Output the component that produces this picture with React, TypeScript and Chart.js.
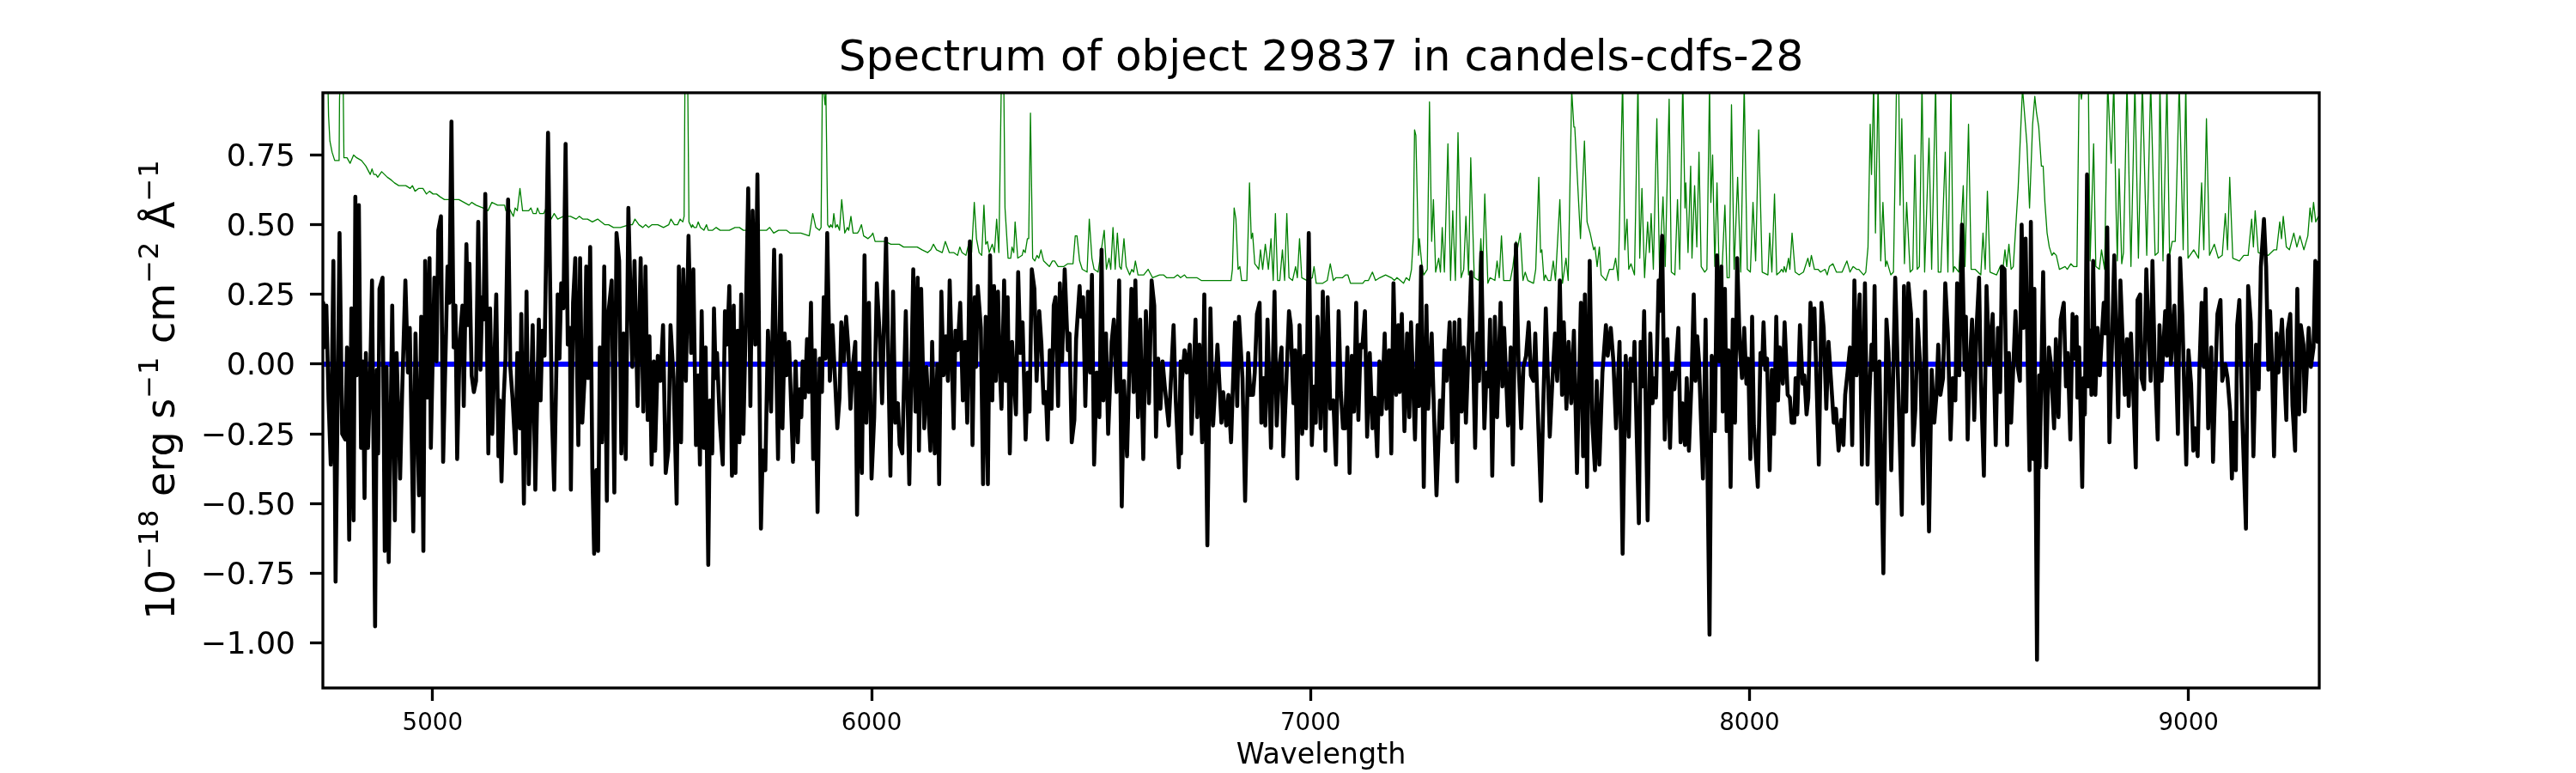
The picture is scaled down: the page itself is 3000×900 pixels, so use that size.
import React, { useEffect, useRef } from "react";
import { Chart, registerables } from "chart.js";

Chart.register(...registerables);

const titleText = "Spectrum of object 29837 in candels-cdfs-28";
const xLabel = "Wavelength";
const yLabelParts = [
  ["10", 0], ["\u221218", 1], [" erg s", 0], ["\u22121", 1], [" cm", 0], ["\u22122", 1], [" \u00c5", 0], ["\u22121", 1],
];
const xTickValues = [5000, 6000, 7000, 8000, 9000];
const yTickValues = [-1, -0.75, -0.5, -0.25, 0, 0.25, 0.5, 0.75];
const xLimits = [4750, 9298];
const yLimits = [-1.161, 0.973];
const zeroLine = [[4750, 0], [9296, 0]];

// Object flux, [wavelength, flux]
const fluxA = [[4750,.06],[4751,.22],[4753,.06],[4758,.21],[4763,-.13],[4768,-.36],[4774,.37],[4779,-.78],[4788,.47],[4794,-.25],[4801,-.27],[4805,.06],[4810,-.63],[4815,.20],[4820,-.56],[4824,.60],[4827,-.04],[4832,.57],[4837,-.30],[4841,.01],[4845,-.48],[4848,.04],[4853,-.30],[4858,-.03],[4862,.30],[4869,-.94],[4873,-.02],[4876,-.32],[4879,.27],[4886,.31],[4891,-.67],[4895,-.01],[4900,-.71],[4908,.21],[4914,-.56],[4918,.04],[4926,-.41],[4931,-.08],[4938,.30],[4944,-.03],[4948,.13],[4956,-.60],[4961,.11],[4969,-.47],[4974,.17],[4979,-.67],[4983,.37],[4988,-.12],[4993,.38],[4996,-.30],[5004,.31],[5009,.01],[5013,.48],[5019,.53],[5024,-.35],[5034,.35],[5038,.22],[5043,.87],[5048,.06],[5052,.21],[5056,-.34],[5062,.09],[5068,.21],[5071,-.15],[5077,.43],[5081,.14],[5084,.36],[5089,-.04],[5094,-.10],[5099,-.06],[5104,.51],[5109,-.02],[5113,.24],[5116,.16],[5120,.61],[5127,-.32],[5131,.20],[5136,-.25],[5145,.25],[5150,-.33],[5153,-.13],[5157,-.42],[5162,-.12],[5166,.02],[5172,.59],[5177,-.01],[5182,-.12],[5189,-.32],[5193,.04],[5199,-.23],[5202,.18],[5208,-.50],[5214,.26],[5219,-.43],[5228,.14],[5234,-.45],[5242,.16],[5246,-.13],[5250,.12],[5255,.03],[5263,.83],[5272,-.19],[5277,-.45],[5285,.25],[5289,.02],[5293,.29],[5298,.20],[5303,.79],[5308,.07],[5313,.13],[5315,-.45],[5320,.22],[5325,.38],[5332,-.29],[5336,.38],[5341,-.21],[5346,-.06],[5350,.35],[5354,-.05],[5359,.42],[5364,-.39],[5368,-.68],[5373,-.38],[5377,-.67],[5381,.06],[5386,-.28],[5391,.35],[5397,-.49],[5401,.19]];
const fluxB = [[5408,.30],[5414,-.46],[5419,.47],[5425,.37],[5430,-.32],[5435,.11],[5440,-.34],[5446,.56],[5455,-.01],[5460,.37],[5467,-.15],[5474,.38],[5480,-.17],[5485,.35],[5490,-.20],[5494,.10],[5499,-.36],[5504,.01],[5507,-.31],[5513,.03],[5519,-.06],[5525,.14],[5531,-.39],[5537,-.31],[5542,.14],[5549,-.05],[5556,-.50],[5561,.35],[5566,-.28],[5571,.34],[5577,-.06],[5583,.46],[5589,.04],[5594,.34],[5600,-.29],[5605,-.04],[5609,-.36],[5613,.19],[5618,-.30],[5622,.06],[5628,-.72],[5632,-.13],[5637,-.32],[5641,.20],[5645,-.05],[5648,.04],[5654,-.20],[5661,-.36],[5666,.19],[5671,.07],[5676,.28],[5682,-.40],[5686,.21],[5690,-.39],[5695,.12],[5699,-.28],[5703,.25],[5708,-.25],[5713,.12],[5719,.63],[5724,-.15],[5729,.55],[5735,.07],[5740,.68],[5748,-.59],[5752,-.31],[5758,-.38],[5764,.12],[5771,-.17],[5778,.41],[5787,-.34],[5793,.39],[5797,-.23],[5802,.11],[5806,-.04],[5812,.08],[5821,-.35],[5827,.01],[5832,-.28],[5836,-.09],[5840,-.19],[5843,.01],[5848,-.12],[5853,.09],[5857,-.10],[5862,.22],[5867,-.34],[5871,.05],[5877,-.53],[5882,.02],[5887,-.10],[5891,.24],[5895,.02],[5899,.47],[5905,-.06],[5911,.14],[5922,-.23],[5927,-.12],[5931,.15],[5937,.01],[5942,.17],[5947,.06],[5952,-.16],[5957,-.01],[5963,.08],[5967,-.54],[5972,-.03],[5978,-.39],[5984,.39],[5988,-.21],[5994,.22],[6000,-.41],[6006,-.19],[6012,.29],[6019,.09],[6024,-.14],[6033,.45],[6043,-.40],[6049,.26]];
const fluxC = [[6054,-.21],[6060,-.14],[6064,-.29],[6070,-.32],[6078,.19],[6086,-.43],[6095,.34],[6100,-.17],[6105,.31],[6108,-.31],[6113,.27],[6120,-.23],[6125,-.01],[6134,-.31],[6138,.08],[6144,-.32],[6150,0],[6154,-.43],[6159,.26],[6164,-.04],[6169,.10],[6174,-.06],[6178,.30],[6187,-.23],[6191,.12],[6196,.05],[6202,.22],[6208,-.13],[6213,.08],[6218,-.21],[6224,.44],[6230,-.29],[6235,.24],[6238,-.01],[6242,.28],[6249,.13],[6254,-.43],[6260,.17],[6265,-.43],[6270,.39],[6275,-.13],[6279,.28],[6283,-.06],[6288,.26],[6292,-.01],[6296,-.16],[6302,.30],[6306,-.06],[6310,.24],[6315,-.32],[6320,.08],[6329,-.18],[6334,.33],[6339,.04],[6344,.15],[6351,-.27],[6356,-.03],[6360,-.17],[6365,.34],[6371,.27],[6376,-.06],[6382,.19],[6387,.07],[6392,-.14],[6397,-.10],[6401,-.27],[6406,.05],[6410,-.16],[6415,.21],[6419,.24],[6425,-.15],[6429,.29],[6434,.01],[6440,.34],[6447,.05],[6451,.11],[6456,-.28],[6462,-.20],[6466,.09],[6474,.28],[6477,.17],[6482,.24],[6487,-.15],[6493,.26],[6498,-.03],[6502,.32],[6507,-.36],[6513,-.03],[6519,-.19],[6524,.41],[6528,-.13],[6534,.11],[6539,-.25],[6547,.08],[6552,.16],[6558,-.10],[6564,.30],[6570,-.51],[6575,-.06],[6582,-.33],[6592,.27],[6597,-.10],[6601,.30],[6607,-.19],[6612,.16],[6619,-.34],[6625,.19],[6632,-.14],[6638,.30],[6644,.21],[6648,-.26],[6653,.02],[6658,-.16],[6663,.01],[6668,-.08],[6677,-.22],[6688,.14],[6693,-.13],[6700,-.37],[6704,.01]];
const fluxD = [[6705,-.32],[6707,-.06],[6713,.05],[6718,-.03],[6725,.07],[6729,-.25],[6738,.16],[6742,-.19],[6747,.07],[6753,-.28],[6758,.25],[6765,-.65],[6772,.20],[6778,-.22],[6788,.07],[6797,-.21],[6801,-.10],[6808,-.22],[6813,-.11],[6819,-.28],[6828,.15],[6833,-.15],[6837,.17],[6845,-.05],[6851,-.49],[6858,.04],[6863,-.11],[6869,-.11],[6873,-.03],[6878,.18],[6884,.22],[6888,-.21],[6893,-.05],[6897,-.22],[6902,.16],[6910,-.30],[6918,.26],[6923,-.22],[6929,-.01],[6934,.06],[6938,-.33],[6944,-.10],[6951,.19],[6955,.14],[6961,-.14],[6965,.05],[6970,-.41],[6975,.14],[6981,-.25],[6986,.03],[6990,-.23],[6996,.47],[7003,-.29],[7008,-.08],[7012,-.21],[7016,.17],[7023,-.23],[7028,.26],[7034,-.31],[7039,.24],[7045,-.16],[7052,-.13],[7058,-.36],[7064,.19],[7069,-.10],[7074,-.23],[7079,-.23],[7084,.06],[7089,-.39],[7094,.03],[7099,-.17],[7104,.22],[7109,-.20],[7114,.07],[7118,.06],[7124,.19],[7129,-.26],[7135,.04],[7141,-.23],[7146,-.12],[7152,-.33],[7157,.01],[7162,-.18],[7169,.11],[7173,-.16],[7179,.05],[7184,-.32],[7189,.29],[7195,-.11],[7200,.14],[7203,-.10],[7208,.18],[7214,-.24],[7220,.11],[7225,-.19],[7229,.15],[7238,-.27],[7244,.14],[7247,-.15],[7252,.35],[7258,-.44],[7264,.21],[7268,-.16],[7276,.11],[7281,-.16],[7287,-.47],[7295,-.13],[7300,-.23],[7305,.05],[7310,-.06],[7317,.15],[7323,-.28],[7328,.15],[7334,-.42],[7339,.16],[7344,-.17],[7349,.06],[7354,-.21]];
const fluxE = [[7366,.33],[7375,-.30],[7380,.11],[7384,-.06],[7389,.40],[7396,-.23],[7401,-.03],[7405,-.08],[7409,.16],[7414,-.40],[7420,.17],[7425,-.19],[7433,.22],[7437,-.08],[7441,.13],[7450,-.22],[7456,.06],[7461,-.36],[7468,.43],[7474,0],[7480,-.23],[7485,-.01],[7491,.03],[7497,.15],[7502,-.04],[7508,-.06],[7512,.11],[7516,-.09],[7525,-.49],[7530,-.16],[7536,.20],[7545,-.26],[7551,-.06],[7557,.11],[7562,-.06],[7568,.30],[7573,-.11],[7577,.15],[7583,-.16],[7588,.08],[7594,-.14],[7600,.12],[7607,-.39],[7616,.22],[7621,-.33],[7625,.25],[7630,-.44],[7636,.37],[7642,-.21],[7648,-.38],[7652,-.06],[7658,-.36],[7665,-.03],[7673,.14],[7677,.03],[7684,.13],[7690,.01],[7696,-.23],[7704,.08],[7711,-.68],[7718,.03],[7725,-.26],[7729,.02],[7735,-.06],[7738,.08],[7748,-.57],[7752,.08],[7756,-.08],[7760,.19],[7768,-.56],[7774,.11],[7779,-.14],[7784,-.05],[7787,-.12],[7793,.30],[7795,.19],[7801,.46],[7807,-.27],[7813,.09],[7819,-.30],[7824,-.03],[7829,-.09],[7838,.13],[7843,-.28],[7847,-.14],[7853,-.29],[7857,-.05],[7862,-.31],[7868,-.06],[7873,.25],[7877,-.06],[7881,.10],[7885,.01],[7894,-.41],[7900,.16],[7909,-.97],[7914,.03],[7921,-.24],[7926,.39],[7931,.01],[7936,.35],[7939,-.17],[7944,.27],[7948,-.24],[7952,.05],[7957,-.44],[7962,.16],[7967,-.21],[7972,.38],[7978,.06],[7983,-.05],[7988,.13],[7993,-.07],[7997,.02],[8002,-.34],[8006,.17]];
const fluxF = [[8010,-.22],[8019,-.44],[8025,.04],[8029,0],[8032,.15],[8036,-.02],[8040,.02],[8046,-.38],[8051,-.02],[8056,-.25],[8061,.17],[8065,-.13],[8069,.06],[8076,-.07],[8080,.15],[8087,-.11],[8092,-.12],[8096,-.21],[8102,-.21],[8105,-.05],[8109,-.18],[8115,.14],[8121,-.07],[8125,-.04],[8130,-.18],[8134,-.12],[8139,.22],[8144,.09],[8148,.20],[8152,-.02],[8158,-.36],[8164,.22],[8169,.13],[8175,-.16],[8180,.08],[8185,-.04],[8192,-.21],[8197,-.16],[8203,-.31],[8209,-.20],[8214,-.29],[8218,-.11],[8224,-.02],[8229,.06],[8234,-.29],[8239,.30],[8244,-.04],[8251,.25],[8256,-.36],[8263,.29],[8269,-.36],[8273,-.12],[8278,.07],[8282,-.02],[8285,.28],[8291,-.50],[8296,.01],[8305,-.75],[8312,.16],[8317,.04],[8323,-.38],[8332,.31],[8338,-.03],[8347,-.54],[8352,.28],[8357,-.17],[8362,.29],[8368,.18],[8373,-.29],[8378,-.16],[8383,.16],[8390,-.04],[8395,-.50],[8400,.26],[8409,-.60],[8415,-.02],[8421,-.21],[8426,-.11],[8430,.07],[8435,-.11],[8441,-.05],[8446,.29],[8452,.11],[8458,-.27],[8463,-.05],[8469,-.13],[8473,.29],[8478,-.04],[8484,.50],[8490,-.02],[8493,.17],[8497,-.27],[8501,-.03],[8507,.16],[8512,-.20],[8517,.12],[8523,.31],[8527,-.05],[8534,-.40],[8540,.28],[8546,0],[8554,.18],[8561,-.29],[8566,.13],[8571,-.10],[8575,.35],[8581,.34],[8587,-.29],[8591,.04],[8596,-.21],[8606,.19],[8611,-.01],[8616,-.06],[8620,.50],[8624,.13],[8629,.45],[8638,-.38],[8641,.51],[8646,-.34],[8649,.27],[8655,-1.06],[8660,-.04]];
const fluxG = [[8661,-.37],[8669,.33],[8676,-.37],[8682,.06],[8686,.01],[8694,-.23],[8698,.09],[8704,-.19],[8709,.16],[8716,.22],[8721,-.08],[8725,.04],[8731,-.27],[8736,.18],[8740,.02],[8745,.17],[8747,-.12],[8751,.06],[8758,-.44],[8761,-.05],[8764,-.18],[8769,.68],[8772,-.08],[8776,.12],[8779,-.11],[8783,.37],[8788,-.11],[8793,.13],[8798,-.04],[8803,.11],[8807,.22],[8811,.11],[8815,.49],[8820,-.28],[8831,.39],[8840,-.19],[8845,.30],[8855,-.11],[8860,.09],[8864,-.15],[8869,.11],[8875,-.13],[8880,-.37],[8884,.23],[8890,.25],[8893,-.05],[8899,-.09],[8904,.34],[8908,.16],[8914,-.06],[8918,.37],[8923,.02],[8930,-.27],[8934,.14],[8939,-.06],[8947,.19],[8951,.03],[8955,.39],[8960,0],[8968,.21],[8976,-.25],[8981,.38],[8986,.18],[8995,-.36],[9000,.05],[9006,-.07],[9011,-.31],[9016,-.23],[9021,-.33],[9025,-.02],[9030,.22],[9035,-.01],[9039,.27],[9045,-.23],[9052,.06],[9056,-.35],[9061,-.07],[9066,.18],[9073,.23],[9077,-.06],[9084,0],[9089,-.05],[9095,-.17],[9099,-.41],[9103,-.21],[9108,-.38],[9111,.14],[9116,.23],[9123,-.21],[9131,-.59],[9136,.28],[9142,.15],[9148,-.33],[9154,.07],[9160,-.09],[9165,.35],[9172,.52],[9177,.35],[9182,-.02],[9186,.19],[9190,.02],[9195,-.33],[9201,.11],[9205,-.03],[9213,.16],[9217,.02],[9223,-.20],[9226,.12],[9232,.18],[9237,-.15],[9243,-.31],[9248,.27],[9252,-.18],[9256,.14],[9262,.07],[9265,-.17],[9274,.13],[9279,-.01],[9285,.06],[9289,.37],[9294,.08],[9296,.37]];

// Noise spectrum, [wavelength, flux]; values above the top of the frame are estimates
const noiseA = [[4761,1.05],[4763,.89],[4766,.80],[4771,.76],[4777,.73],[4787,.73],[4788,.95],[4790,1.05],[4796,1.05],[4798,.74],[4805,.74],[4812,.72],[4820,.75],[4827,.74],[4838,.73],[4848,.71],[4858,.68],[4862,.70],[4866,.68],[4871,.68],[4875,.67],[4884,.69],[4897,.67],[4906,.66],[4913,.65],[4923,.64],[4939,.64],[4949,.63],[4954,.64],[4960,.62],[4968,.63],[4978,.63],[4986,.61],[4993,.62],[5001,.61],[5009,.61],[5017,.60],[5027,.59],[5035,.59],[5050,.59],[5060,.59],[5083,.57],[5089,.58],[5099,.57],[5115,.56],[5126,.55],[5135,.58],[5148,.57],[5164,.57],[5167,.55],[5174,.56],[5184,.53],[5188,.56],[5193,.55],[5199,.63],[5205,.55],[5219,.55],[5224,.56],[5229,.54],[5236,.54],[5239,.56],[5244,.54],[5253,.54],[5259,.56],[5270,.52],[5277,.54],[5285,.52],[5298,.53],[5314,.53],[5327,.52],[5334,.53],[5342,.52],[5353,.52],[5364,.51],[5376,.52],[5392,.50],[5401,.50]];
const noiseB = [[5412,.49],[5428,.49],[5448,.50],[5455,.50],[5461,.52],[5470,.50],[5479,.49],[5485,.50],[5492,.49],[5500,.50],[5513,.50],[5526,.49],[5538,.50],[5543,.52],[5551,.50],[5558,.50],[5564,.52],[5570,.51],[5573,.53],[5575,1.05],[5581,1.05],[5584,.51],[5590,.49],[5592,.50],[5596,.49],[5601,.49],[5605,.51],[5610,.49],[5618,.48],[5624,.50],[5628,.48],[5638,.48],[5646,.49],[5655,.48],[5669,.48],[5676,.48],[5689,.49],[5699,.49],[5708,.48],[5721,.48],[5735,.48],[5748,.48],[5761,.48],[5768,.49],[5777,.47],[5788,.48],[5798,.48],[5806,.48],[5814,.47],[5823,.47],[5839,.47],[5858,.46],[5866,.54],[5873,.49],[5881,.48],[5885,.49],[5888,1.01],[5892,.97],[5894,.93],[5896,.97],[5900,.50],[5904,.49],[5907,.50],[5911,.49],[5914,.54],[5918,.49],[5922,.50],[5927,.48],[5932,.59],[5939,.47],[5945,.49],[5948,.48],[5953,.53],[5958,.47],[5968,.47],[5972,.48],[5977,.50],[5982,.46],[5992,.45],[5999,.46],[6003,.47],[6008,.44],[6018,.44],[6025,.44],[6031,.44],[6044,.43],[6053,.43]];
const noiseC = [[6063,.43],[6073,.42],[6082,.42],[6093,.42],[6104,.42],[6115,.41],[6128,.40],[6135,.41],[6141,.43],[6148,.41],[6161,.40],[6168,.44],[6177,.40],[6187,.40],[6196,.39],[6201,.42],[6206,.40],[6215,.39],[6221,.43],[6228,.40],[6234,.58],[6239,.45],[6245,.40],[6251,.39],[6256,.57],[6260,.43],[6264,.44],[6268,.40],[6275,.43],[6280,.40],[6285,.52],[6290,.40],[6296,1.05],[6301,1.05],[6304,.56],[6311,.38],[6317,.38],[6320,.42],[6324,.40],[6327,.51],[6333,.38],[6343,.39],[6346,.41],[6350,.40],[6355,.45],[6358,.45],[6362,.90],[6367,.38],[6372,.37],[6377,.39],[6381,.38],[6386,.41],[6392,.37],[6405,.35],[6412,.37],[6417,.37],[6425,.35],[6438,.35],[6447,.36],[6459,.36],[6464,.46],[6468,.46],[6474,.37],[6480,.34],[6491,.33],[6496,.52],[6502,.38],[6507,.34],[6516,.33],[6530,.48],[6535,.34],[6541,.38],[6545,.34],[6550,.49],[6555,.34],[6560,.47],[6565,.35],[6569,.34],[6575,.45],[6580,.35],[6588,.32],[6593,.34],[6597,.33],[6601,.37],[6607,.32],[6620,.32],[6630,.34],[6640,.31],[6656,.32],[6665,.32],[6672,.31],[6689,.31],[6697,.32],[6704,.31]];
const noiseD = [[6713,.32],[6718,.31],[6728,.31],[6732,.31],[6741,.31],[6751,.30],[6770,.30],[6785,.30],[6793,.30],[6819,.30],[6822,.34],[6826,.56],[6830,.52],[6835,.34],[6839,.35],[6843,.30],[6848,.30],[6855,.30],[6861,.65],[6865,.45],[6868,.47],[6873,.36],[6878,.35],[6882,.34],[6886,.41],[6891,.34],[6897,.43],[6904,.34],[6910,.45],[6915,.30],[6920,.54],[6925,.30],[6930,.30],[6936,.41],[6941,.30],[6946,.54],[6951,.31],[6959,.30],[6966,.35],[6970,.31],[6975,.45],[6980,.31],[6992,.30],[7004,.31],[7008,.35],[7013,.29],[7028,.29],[7038,.30],[7045,.36],[7052,.30],[7058,.31],[7073,.31],[7080,.32],[7085,.32],[7091,.29],[7119,.29],[7124,.30],[7132,.30],[7141,.33],[7148,.30],[7158,.31],[7171,.32],[7184,.31],[7191,.30],[7197,.31],[7212,.29],[7218,.31],[7225,.30],[7230,.34],[7234,.45],[7237,.84],[7240,.82],[7246,.39],[7248,.45],[7254,.35],[7258,.32],[7266,.34],[7271,.94],[7276,.44],[7280,.59],[7285,.33],[7292,.38],[7296,.33],[7300,.49],[7305,.33],[7313,.79],[7319,.30],[7324,.55],[7330,.30],[7336,.83],[7343,.31],[7349,.34],[7354,.53]];
const noiseE = [[7360,.32],[7365,.74],[7373,.31],[7383,.30],[7388,.45],[7392,.32],[7397,.61],[7404,.29],[7409,.31],[7420,.30],[7425,.37],[7430,.31],[7435,.46],[7440,.30],[7455,.30],[7461,.35],[7468,.44],[7471,.41],[7478,.47],[7484,.30],[7489,.33],[7495,.30],[7508,.29],[7513,.34],[7520,.67],[7524,.40],[7527,.41],[7532,.30],[7535,.32],[7541,.30],[7547,.30],[7553,.37],[7558,.30],[7568,.59],[7574,.29],[7582,.38],[7587,.30],[7595,.98],[7600,.85],[7602,.85],[7615,.45],[7624,.80],[7630,.51],[7637,.47],[7645,.41],[7648,.42],[7653,.35],[7658,.42],[7662,.32],[7673,.30],[7681,.34],[7690,.34],[7695,.38],[7701,.30],[7711,1.02],[7716,.41],[7721,.52],[7725,.34],[7730,.36],[7738,.32],[7746,1.02],[7750,.38],[7755,.63],[7761,.31],[7768,.51],[7772,.40],[7776,.54],[7781,.34],[7789,.88],[7795,.34],[7803,.60],[7808,.35],[7817,.95],[7822,.33],[7830,.32],[7836,.59],[7841,.34],[7848,1.02],[7853,.56],[7855,.65],[7860,.40],[7866,.71],[7869,.38],[7875,.64],[7880,.42],[7885,.76],[7890,.35],[7898,.33],[7903,.34],[7909,1.01],[7912,.58],[7916,.75],[7921,.35],[7926,.65],[7931,.33],[7937,.32],[7944,.57],[7949,.31],[7954,.31],[7959,.93],[7965,.34],[7973,.67],[7980,.33],[7988,1.00],[7995,.34],[8002,.33],[8008,.58]];
const noiseF = [[8014,.37],[8021,.84],[8029,.33],[8042,.32],[8046,.47],[8051,.33],[8057,.61],[8062,.32],[8069,.33],[8073,.34],[8077,.33],[8079,.35],[8083,.33],[8089,.38],[8092,.34],[8097,.47],[8104,.33],[8113,.32],[8123,.33],[8133,.38],[8137,.35],[8141,.39],[8148,.34],[8156,.34],[8162,.33],[8172,.34],[8177,.32],[8182,.35],[8190,.36],[8198,.33],[8211,.33],[8222,.37],[8229,.33],[8236,.35],[8244,.34],[8249,.34],[8260,.32],[8265,.33],[8270,.42],[8275,.86],[8278,.68],[8283,1.01],[8287,.47],[8293,1.01],[8299,.37],[8304,.58],[8310,.35],[8313,.37],[8322,.32],[8328,.33],[8335,1.01],[8340,1.01],[8343,.57],[8347,.88],[8353,.36],[8358,.58],[8366,.33],[8372,.34],[8377,.75],[8382,.34],[8387,.35],[8393,1.01],[8399,.33],[8409,.81],[8415,.34],[8424,1.01],[8430,.33],[8436,.33],[8446,.76],[8452,.33],[8459,1.01],[8464,.33],[8467,.35],[8477,.33],[8487,.64],[8491,.35],[8499,.86],[8505,.34],[8514,.34],[8527,.32],[8532,.47],[8537,.34],[8542,.62],[8548,.33],[8563,.32],[8571,.35],[8578,.35],[8582,.41],[8586,.35],[8591,.43],[8596,.34],[8601,.35],[8612,.63],[8622,.99],[8632,.79],[8638,.56],[8645,.86],[8650,.96],[8654,.90],[8659,.85]];
const noiseG = [[8665,.71],[8669,.71],[8673,.58],[8678,.47],[8683,.42],[8689,.39],[8693,.40],[8699,.39],[8706,.34],[8719,.35],[8724,.34],[8732,.36],[8738,.35],[8746,.35],[8751,1.01],[8756,.95],[8761,1.01],[8764,.97],[8772,1.01],[8776,.37],[8784,.79],[8789,.35],[8797,.34],[8802,.41],[8809,.34],[8816,1.01],[8824,.72],[8830,1.01],[8835,.56],[8838,.37],[8842,.70],[8848,.36],[8852,.40],[8860,1.01],[8869,.35],[8878,1.01],[8886,.38],[8895,1.01],[8905,.39],[8914,1.01],[8924,.39],[8931,.40],[8935,1.01],[8942,.37],[8951,1.01],[8957,.39],[8963,.44],[8970,.44],[8979,1.01],[8988,.41],[8994,1.01],[8999,.38],[9012,.41],[9023,.38],[9030,.65],[9035,.41],[9041,.88],[9048,.39],[9059,.43],[9068,.38],[9077,.39],[9084,.54],[9089,.41],[9094,.67],[9101,.38],[9116,.37],[9126,.39],[9136,.39],[9144,.52],[9148,.42],[9152,.55],[9159,.40],[9182,.39],[9195,.41],[9201,.41],[9208,.51],[9212,.45],[9216,.53],[9223,.42],[9230,.41],[9240,.47],[9247,.42],[9254,.46],[9263,.41],[9272,.46],[9277,.56],[9281,.51],[9285,.58],[9290,.51],[9296,.53]];

const flux = [...fluxA, ...fluxB, ...fluxC, ...fluxD, ...fluxE, ...fluxF, ...fluxG];
const noise = [...noiseA, ...noiseB, ...noiseC, ...noiseD, ...noiseE, ...noiseF, ...noiseG];

const toPoints = (pairs: number[][]) => pairs.map(([x, y]) => ({ x, y }));
const FONT = "'DejaVu Sans'";

const framePlugin = {
  id: "frame",
  beforeDraw(chart: any) {
    // matplotlib sets text a little lower against its tick than canvas "middle" does
    for (const item of chart.scales.y.getLabelItems()) item.options.translation[1] += 3;
    for (const item of chart.scales.x.getLabelItems()) item.options.translation[1] += 1;
  },
  afterDatasetsDraw(chart: any) {
    const { ctx, chartArea: a } = chart;
    ctx.save();
    ctx.strokeStyle = "#000";
    ctx.lineWidth = 3.3;
    ctx.strokeRect(a.left, a.top, a.right - a.left, a.bottom - a.top);
    // y-axis label: base text with raised exponents, as in the reference's math text
    const base = 46;
    const sup = 32;
    const measure = (t: string, isSup: number) => {
      ctx.font = `${isSup ? sup : base}px ${FONT}`;
      (ctx as any).letterSpacing = isSup ? "1px" : "0px";
      return ctx.measureText(t).width;
    };
    const total = yLabelParts.reduce((s, [t, f]) => s + measure(t as string, f as number), 0);
    ctx.translate(203, (a.top + a.bottom) / 2 + total / 2 - 1);
    ctx.rotate(-Math.PI / 2);
    ctx.fillStyle = "#000";
    ctx.textBaseline = "alphabetic";
    ctx.textAlign = "left";
    let pos = 0;
    for (const [t, f] of yLabelParts) {
      const w = measure(t as string, f as number);
      ctx.fillText(t as string, pos, f ? -19 : 0);
      pos += w;
    }
    (ctx as any).letterSpacing = "0px";
    ctx.restore();
  },
};

export default function App() {
  const ref = useRef<HTMLCanvasElement | null>(null);
  useEffect(() => {
    const chart = new Chart(ref.current as HTMLCanvasElement, {
      type: "line",
      data: {
        datasets: [
          { label: "flux", data: toPoints(flux), borderColor: "#000000", borderWidth: 4.6, pointRadius: 0, borderJoinStyle: "round", tension: 0 },
          { label: "zero", data: toPoints(zeroLine), borderColor: "#0000ff", borderWidth: 6, pointRadius: 0, tension: 0 },
          { label: "noise", data: toPoints(noise), borderColor: "#008000", borderWidth: 1.3, pointRadius: 0, borderJoinStyle: "round", tension: 0 },
        ],
      },
      options: {
        animation: false,
        responsive: false,
        devicePixelRatio: 1,
        parsing: false,
        layout: { padding: { left: 0, right: 299, top: 0, bottom: 0 } },
        plugins: {
          legend: { display: false },
          tooltip: { enabled: false },
          title: {
            display: true,
            fullSize: false,
            text: titleText,
            color: "#000",
            font: { family: FONT, size: 50, weight: "normal", lineHeight: 1.2 },
            padding: { top: 39, bottom: 9 },
          },
        },
        scales: {
          x: {
            type: "linear",
            min: xLimits[0],
            max: xLimits[1],
            afterFit: (s: any) => { s.height = 99; },
            afterBuildTicks: (s: any) => { s.ticks = xTickValues.map((value) => ({ value })); },
            border: { display: false },
            grid: { drawOnChartArea: false, drawTicks: true, tickLength: 15, tickWidth: 3.3, tickColor: "#000" },
            ticks: {
              autoSkip: false, maxRotation: 0, color: "#000", padding: 9,
              font: { family: FONT, size: 27.7 },
              callback: (v: any) => String(v),
            },
            title: { display: true, text: xLabel, color: "#000", padding: { top: 0, bottom: 0 }, font: { family: FONT, size: 33.3, lineHeight: 1.2 } },
          },
          y: {
            type: "linear",
            min: yLimits[0],
            max: yLimits[1],
            afterFit: (s: any) => { s.width = 376; },
            afterBuildTicks: (s: any) => { s.ticks = yTickValues.map((value) => ({ value })); },
            border: { display: false },
            grid: { drawOnChartArea: false, drawTicks: true, tickLength: 15, tickWidth: 3.3, tickColor: "#000" },
            ticks: {
              autoSkip: false, color: "#000", padding: 17,
              font: { family: FONT, size: 36 },
              callback: (v: any) => (Number(v) < 0 ? "\u2212" : "") + Math.abs(Number(v)).toFixed(2),
            },
          },
        },
      },
      plugins: [framePlugin],
    } as any);
    return () => chart.destroy();
  }, []);
  return (
    <div style={{ position: "absolute", left: 0, top: 0, width: 3000, height: 900, background: "#fff" }}>
      <canvas ref={ref} width={3000} height={900} style={{ display: "block", width: 3000, height: 900 }} />
    </div>
  );
}
